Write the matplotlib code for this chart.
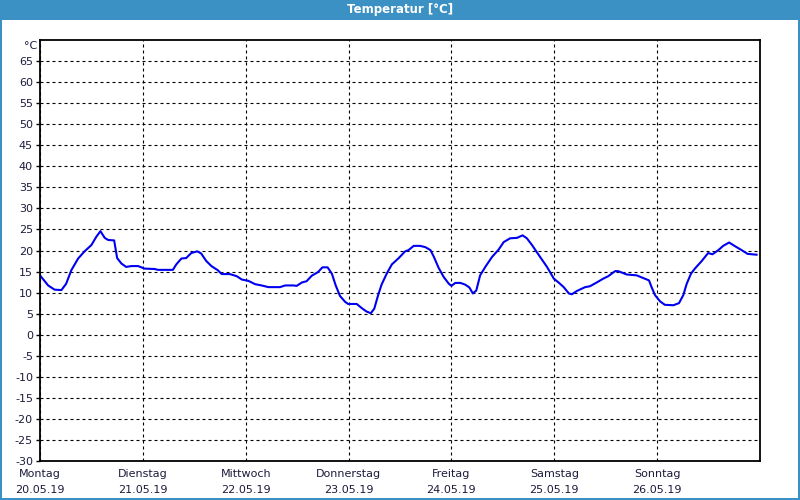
import matplotlib
matplotlib.use('Agg')
import matplotlib.pyplot as plt
from matplotlib.patches import Rectangle

# hours since Monday 00:00 and temperature in degC
hours = [0.0, 1.9, 3.4, 5.0, 6.1, 7.3, 8.9, 10.4, 12.0, 13.1, 14.1, 15.1, 15.9, 17.3,
         18.0, 19.0, 20.1, 21.3, 22.9, 24.4, 26.8, 27.5, 31.0, 31.8, 33.0, 34.1, 35.3,
         36.7, 37.6, 38.8, 40.0, 41.5, 42.4, 44.3, 45.9, 47.1, 48.6, 50.2, 51.7, 53.3,
         56.0, 57.2, 59.1, 59.9, 61.1, 62.2, 63.4, 64.9, 65.9, 67.1, 68.1, 69.0, 70.0,
         71.2, 71.9, 73.9, 75.1, 76.2, 77.2, 78.0, 78.9, 79.7, 80.9, 82.1, 83.7, 85.2,
         86.0, 87.2, 88.7, 89.9, 91.1, 91.9, 93.0, 94.2, 95.4, 96.0, 96.9, 98.1, 99.2,
         100.2, 101.0, 101.8, 102.7, 103.9, 105.5, 107.0, 108.2, 109.7, 111.3, 112.6,
         113.6, 114.8, 116.4, 118.3, 119.9, 121.0, 122.2, 123.4, 124.1, 125.3, 127.2,
         128.3, 129.9, 131.4, 132.6, 134.2, 134.9, 136.9, 139.2, 140.4, 142.1, 142.7,
         143.5, 144.7, 145.8, 147.8, 149.1, 150.1, 150.9, 151.9, 152.8, 154.4, 155.9,
         156.9, 158.3, 159.4, 160.8, 162.2, 163.7, 165.1, 167.2]
temps = [14.1, 11.7, 10.7, 10.6, 12.1, 15.3, 18.1, 19.8, 21.3, 23.2, 24.6, 23.0, 22.5, 22.4,
         18.2, 16.9, 16.1, 16.3, 16.3, 15.7, 15.6, 15.4, 15.4, 16.7, 18.1, 18.2, 19.4,
         19.8, 19.3, 17.5, 16.3, 15.3, 14.4, 14.4, 13.9, 13.1, 12.8, 12.0, 11.7, 11.3,
         11.3, 11.7, 11.7, 11.6, 12.4, 12.7, 14.0, 14.9, 16.0, 16.0, 14.5, 11.7, 9.2,
         7.8, 7.3, 7.3, 6.3, 5.5, 5.1, 6.2, 9.4, 11.9, 14.5, 16.7, 18.2, 19.8,
         20.1, 21.1, 21.1, 20.8, 20.1, 18.5, 15.9, 13.7, 12.1, 11.6, 12.3, 12.3, 11.9,
         11.2, 9.8, 10.5, 14.1, 16.1, 18.5, 20.2, 22.0, 22.9, 23.0, 23.6,
         22.9, 21.3, 18.9, 16.1, 13.3, 12.4, 11.3, 9.8, 9.6, 10.4, 11.3,
         11.5, 12.4, 13.3, 13.9, 15.1, 15.1, 14.3, 14.1, 13.6, 12.9, 11.3,
         9.4, 7.9, 7.1, 7.0, 7.5, 9.4, 12.1, 14.5, 15.7, 17.5, 19.4,
         19.1, 20.1, 21.1, 21.9, 21.0, 20.1, 19.2, 19.0]

day_names = ['Montag', 'Dienstag', 'Mittwoch', 'Donnerstag', 'Freitag', 'Samstag', 'Sonntag']
day_dates = ['20.05.19', '21.05.19', '22.05.19', '23.05.19', '24.05.19', '25.05.19', '26.05.19']
y_ticks = list(range(-30, 70, 5))

frame_blue = '#3b91c4'
text_col = '#1c1c3c'

fig = plt.figure(figsize=(8, 5), dpi=100, facecolor='white')

# title bar and thin window frame
fig.patches.append(Rectangle((0, 0.96), 1, 0.04, transform=fig.transFigure,
                             facecolor=frame_blue, edgecolor='none'))
for r in [(0, 0), (0.998, 0)]:
    fig.patches.append(Rectangle(r, 0.002, 1, transform=fig.transFigure,
                                 facecolor=frame_blue, edgecolor='none'))
fig.patches.append(Rectangle((0, 0), 1, 0.004, transform=fig.transFigure,
                             facecolor=frame_blue, edgecolor='none'))
fig.text(0.5, 0.98, 'Temperatur [°C]', color='white', fontsize=8.5,
         fontweight='bold', ha='center', va='center')

ax = fig.add_axes([0.05, 0.078, 0.9, 0.842])
ax.plot(hours, temps, color='#0000f0', linewidth=1.5)

ax.set_xlim(0, 168)
ax.set_ylim(-30, 70)
ax.set_yticks(y_ticks)
ax.set_yticklabels([str(v) for v in y_ticks], fontsize=8, color=text_col)
ax.set_xticks([24 * i for i in range(7)])
ax.set_xticklabels([f'{n}\n{d}' for n, d in zip(day_names, day_dates)],
                   fontsize=8, color=text_col, linespacing=1.7)
ax.tick_params(axis='y', length=3, width=1, pad=2)
ax.tick_params(axis='x', length=0, pad=6)
ax.grid(True, color='black', linestyle=(0, (2.7, 2.7)), linewidth=0.8)
for s in ax.spines.values():
    s.set_linewidth(1.3)
ax.text(-0.004, 68.5, '°C', transform=ax.get_yaxis_transform(), fontsize=8,
        color=text_col, ha='right', va='center')

fig.savefig('out.png', dpi=100, facecolor='white')
